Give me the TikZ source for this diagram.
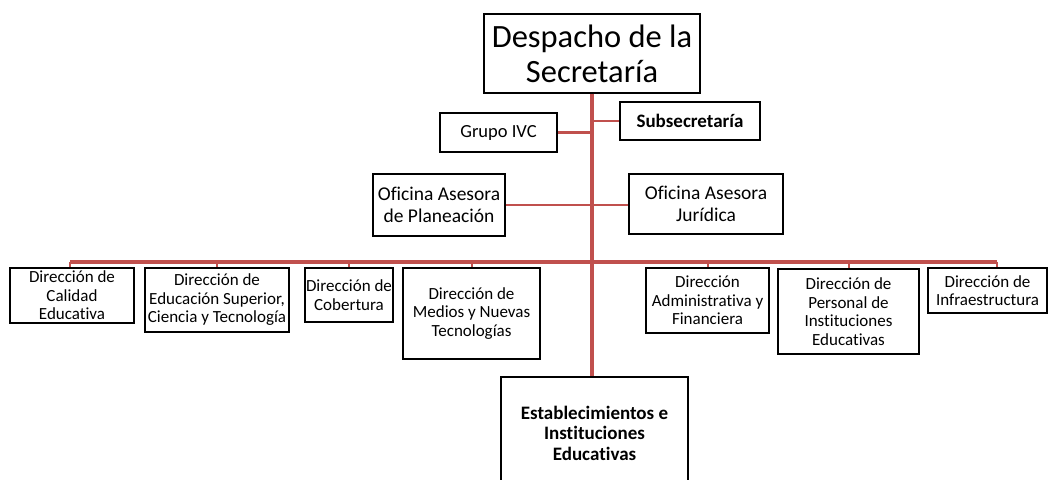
\documentclass[tikz,border=0pt]{standalone}
\usepackage{fontspec}
\setmainfont[Ligatures={NoCommon}]{Carlito}
\definecolor{orgred}{RGB}{192,80,77}
\tikzset{
  box/.style={draw=black, line width=1.8pt, fill=white, align=center, inner sep=0pt},
  leaf/.style={box, font=\fontsize{17}{18.5}\selectfont},
  trunk/.style={draw=orgred, line width=3.2pt},
  branch/.style={draw=orgred, line width=2.4pt},
  stub/.style={draw=orgred, line width=2pt},
}
\begin{document}
\begin{tikzpicture}[x=1pt,y=-1pt]
\clip (0,0) rectangle (1051,479);
\fill[white] (0,0) rectangle (1051,479);
\coordinate (busL) at (70,262);
\coordinate (busR) at (997,262);
% nodes
\node[box, minimum width=216pt, minimum height=79pt, font=\fontsize{32.5}{35}\selectfont] (desp) at (592,53.5) {Despacho de la\\Secretaría};
\node[box, minimum width=140pt, minimum height=38pt, font=\fontsize{19}{20}\selectfont\bfseries] (sub) at (690,121) {Subsecretaría};
\node[box, minimum width=117pt, minimum height=39pt, font=\fontsize{18.5}{20}\selectfont] (ivc) at (498.5,132.5) {Grupo IVC};
\node[box, minimum width=132pt, minimum height=62pt, font=\fontsize{19.5}{22}\selectfont] (plan) at (439,205) {Oficina Asesora\\de Planeación};
\node[box, minimum width=154pt, minimum height=60pt, font=\fontsize{19.5}{22}\selectfont] (jur) at (706,204) {Oficina Asesora\\Jurídica};
\node[leaf, minimum width=124pt, minimum height=55pt] (cal) at (72,295.5) {Dirección de\\Calidad\\Educativa};
\node[leaf, minimum width=144pt, minimum height=64pt] (esup) at (217,300) {Dirección de\\Educación Superior,\\Ciencia y Tecnología};
\node[leaf, minimum width=88pt, minimum height=54pt] (cob) at (349,295) {Dirección de\\Cobertura};
\node[leaf, minimum width=137pt, minimum height=91pt] (med) at (471.5,313.5) {Dirección de\\Medios y Nuevas\\Tecnologías};
\node[leaf, minimum width=123pt, minimum height=65pt] (adm) at (707.5,300.5) {Dirección\\Administrativa y\\Financiera};
\node[leaf, minimum width=141pt, minimum height=85pt] (per) at (848.5,311.5) {Dirección de\\Personal de\\Instituciones\\Educativas};
\node[leaf, minimum width=119pt, minimum height=45pt] (inf) at (987.5,290.5) {Dirección de\\Infraestructura};
\node[box, minimum width=187pt, minimum height=112pt, font=\fontsize{19}{20.5}\selectfont\bfseries] (est) at (594.5,433) {Establecimientos e\\Instituciones\\Educativas};
% connectors
\draw[branch] (desp.south |- sub.west) -- (sub.west);
\draw[branch] (ivc.east) -- (desp.south |- ivc.east);
\draw[branch] (plan.east) -- (plan.east -| jur.west);
\draw[trunk] (busL) -- (busR);
\draw[stub] (busL) -- (busL |- cal.north);
\draw[stub] (esup.north |- busL) -- (esup.north);
\draw[stub] (cob.north |- busL) -- (cob.north);
\draw[stub] (med.north |- busL) -- (med.north);
\draw[stub] (adm.north |- busL) -- (adm.north);
\draw[stub] (per.north |- busL) -- (per.north);
\draw[stub] (busR) -- (busR |- inf.north);
\draw[trunk] (desp.south) -- (desp.south |- est.north);
\end{tikzpicture}
\end{document}
